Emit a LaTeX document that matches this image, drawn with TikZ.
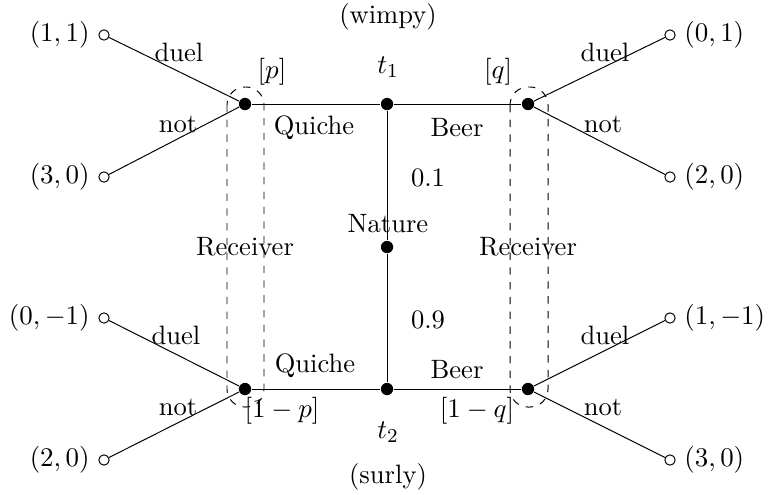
\documentclass[tikz,border=0pt]{standalone}
\begin{document}
\begin{tikzpicture}[x=0.4065pt,y=-0.4065pt,
  every node/.style={font=\fontsize{10.8}{13}\selectfont},
  dec/.style={circle,fill=black,inner sep=0pt,minimum size=5pt},
  term/.style={circle,draw=black,fill=white,inner sep=0pt,minimum size=4.2pt},
  info/.style={draw,dashed,rounded corners=7.3pt},
  lab/.style={inner sep=1pt}]
\useasboundingbox (0,0) rectangle (768,494);
% information sets
\draw[info] (227,87) rectangle (264,407);
\draw[info] (510,87) rectangle (548,407);
% decision nodes
\node[dec] (t1) at (387,104) {};
\node[dec] (nat) at (387,247) {};
\node[dec] (t2) at (387,389) {};
\node[dec] (rl1) at (245,104) {};
\node[dec] (rl2) at (245,389) {};
\node[dec] (rr1) at (528,104) {};
\node[dec] (rr2) at (528,389) {};
% terminal nodes
\node[term] (a1) at (104,35) {};
\node[term] (a2) at (104,177) {};
\node[term] (a3) at (104,318) {};
\node[term] (a4) at (104,460) {};
\node[term] (b1) at (670,35) {};
\node[term] (b2) at (670,177) {};
\node[term] (b3) at (670,318) {};
\node[term] (b4) at (670,460) {};
% payoffs
\node[anchor=east] (pa1) at (a1.west) {$(1,1)$};
\node[anchor=east] (pa2) at (a2.west) {$(3,0)$};
\node[anchor=east] (pa3) at (a3.west) {$(0,-1)$};
\node[anchor=east] (pa4) at (a4.west) {$(2,0)$};
\node[anchor=west] (pb1) at (b1.east) {$(0,1)$};
\node[anchor=west] (pb2) at (b2.east) {$(2,0)$};
\node[anchor=west] (pb3) at (b3.east) {$(1,-1)$};
\node[anchor=west] (pb4) at (b4.east) {$(3,0)$};
% edges
\draw (t1) -- (nat) -- (t2);
\draw (rl1) -- (t1) -- (rr1);
\draw (rl2) -- (t2) -- (rr2);
\draw (rl1) -- (a1); \draw (rl1) -- (a2);
\draw (rl2) -- (a3); \draw (rl2) -- (a4);
\draw (rr1) -- (b1); \draw (rr1) -- (b2);
\draw (rr2) -- (b3); \draw (rr2) -- (b4);
% labels
\node[lab] (l1) at (179,52) {duel};
\node[lab] (l2) at (178,124) {not};
\node[lab] (l3) at (176,335) {duel};
\node[lab] (l4) at (178,407) {not};
\node[lab] (l5) at (605,52) {duel};
\node[lab] (l6) at (603,124) {not};
\node[lab] (l7) at (605,335) {duel};
\node[lab] (l8) at (603,407) {not};
\node[lab] (wimpy) at (388,17) {(wimpy)};
\node[lab] (surly) at (388,477) {(surly)};
\node[lab] (tt1) at (388,67) {$t_1$};
\node[lab] (tt2) at (388,432) {$t_2$};
\node[lab] (pp) at (272,72) {$[p]$};
\node[lab] (qq) at (498,72) {$[q]$};
\node[lab] (pp2) at (282,411) {$[1-p]$};
\node[lab] (qq2) at (477,411) {$[1-q]$};
\node[lab] (q1) at (314,128) {Quiche};
\node[lab] (q2) at (315,366) {Quiche};
\node[lab] (be1) at (457,128) {Beer};
\node[lab] (be2) at (457,370) {Beer};
\node[lab] (p1) at (428,178) {0.1};
\node[lab] (p9) at (428,320) {0.9};
\node[lab] (natl) at (388,224) {Nature};
\node[lab] (recl) at (245,247) {Receiver};
\node[lab] (recr) at (528,247) {Receiver};
\end{tikzpicture}
\end{document}
